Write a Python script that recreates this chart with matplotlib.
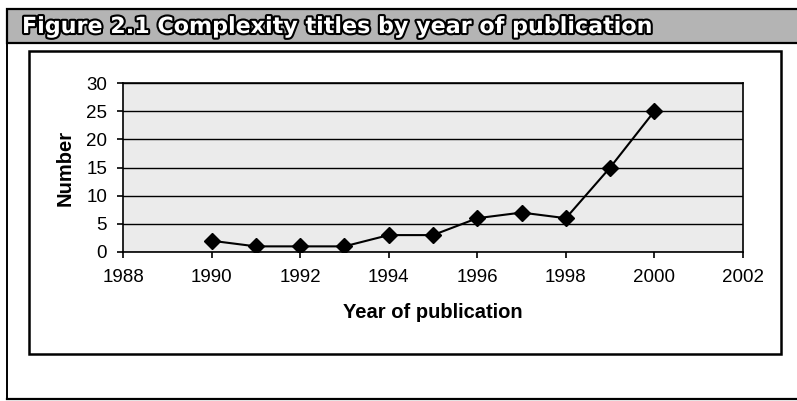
import matplotlib
matplotlib.use("Agg")
import matplotlib.pyplot as plt
import matplotlib.patheffects as pe
from matplotlib.patches import Rectangle
from matplotlib.lines import Line2D

# Data
years = [1990, 1991, 1992, 1993, 1994, 1995, 1996, 1997, 1998, 1999, 2000]
titles = [2, 1, 1, 1, 3, 3, 6, 7, 6, 15, 25]
x_ticks = [1988, 1990, 1992, 1994, 1996, 1998, 2000, 2002]
y_ticks = [0, 5, 10, 15, 20, 25, 30]
banner_text = "Figure 2.1 Complexity titles by year of publication"
x_label = "Year of publication"
y_label = "Number"

W, H = 797, 401
fig = plt.figure(figsize=(W / 100, H / 100), dpi=100)
fig.patch.set_facecolor("white")

# Page decoration layer in pixel coordinates
deco = fig.add_axes([0, 0, 1, 1], zorder=0)
deco.set_xlim(0, W)
deco.set_ylim(H, 0)
deco.axis("off")

# Grey title banner
deco.add_patch(Rectangle((7, 9), W - 7 + 5, 34, facecolor="#b4b4b4",
                         edgecolor="black", linewidth=1.6))
# Outer frame (left and bottom)
deco.add_line(Line2D([7, 7], [43, 399], color="black", linewidth=1.4))
deco.add_line(Line2D([7, W], [399, 399], color="black", linewidth=1.6))
# Chart frame
deco.add_patch(Rectangle((29, 51), 752, 303, facecolor="white",
                         edgecolor="black", linewidth=1.8))

deco.text(22, 27, banner_text, fontsize=16, fontweight="bold",
          family=["DejaVu Sans"], color="white", va="center", ha="left",
          path_effects=[pe.withStroke(linewidth=3, foreground="black")])

# Chart
ax = fig.add_axes([123 / W, 1 - 252 / H, 620 / W, 169 / H], zorder=1)
ax.set_facecolor("#ebebeb")
ax.plot(years, titles, color="black", linewidth=1.5, marker="D",
        markersize=8.5, markerfacecolor="black", markeredgecolor="black",
        zorder=3)

ax.set_xlim(x_ticks[0], x_ticks[-1])
ax.set_ylim(y_ticks[0], y_ticks[-1])
ax.set_xticks(x_ticks)
ax.set_yticks(y_ticks)
ax.yaxis.grid(True, color="black", linewidth=1.0)
ax.set_axisbelow(True)
for s in ax.spines.values():
    s.set_color("black")
    s.set_linewidth(1.2)
ax.tick_params(axis="both", direction="out", length=4, width=1.2,
               labelsize=13.5, color="black")
ax.tick_params(axis="x", pad=8.5)
ax.tick_params(axis="y", pad=7.5)
for lab in ax.get_xticklabels() + ax.get_yticklabels():
    lab.set_family("Liberation Sans")

ax.set_xlabel(x_label, fontsize=14.5, fontweight="bold",
              family="Liberation Sans", labelpad=12)
ax.set_ylabel(y_label, fontsize=14.5, fontweight="bold",
              family="Liberation Sans", labelpad=8)

fig.savefig("out.png", dpi=100)
